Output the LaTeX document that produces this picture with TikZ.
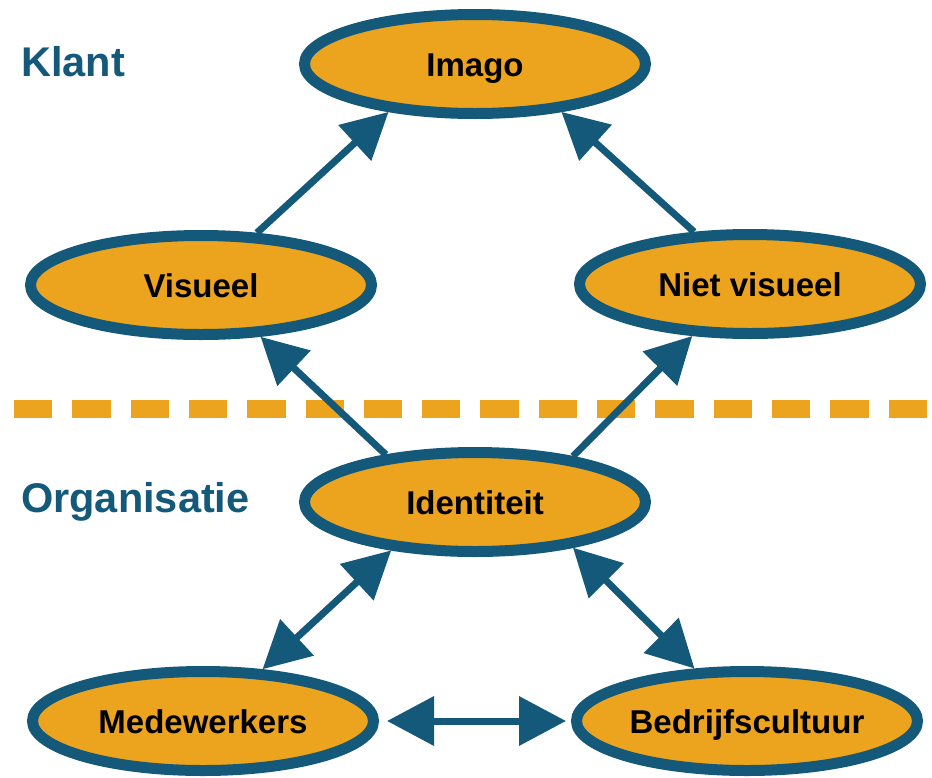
\documentclass[tikz,border=0pt]{standalone}
\usepackage{fontspec}
\setmainfont{Liberation Sans}
\usetikzlibrary{arrows.meta,shapes.geometric}
\definecolor{ochre}{RGB}{236,164,30}
\definecolor{petrol}{RGB}{20,89,122}
\begin{document}
\begin{tikzpicture}[x=1pt,y=-1pt,
  concept/.style={ellipse, draw=petrol, fill=ochre, line width=11pt,
    minimum width=341pt, minimum height=99pt, inner sep=0pt, outer sep=5.5pt,
    text height=24pt, text depth=0pt, text=black,
    font=\fontsize{33}{39}\selectfont\bfseries},
  zone/.style={anchor=base west, inner sep=0pt, text=petrol,
    font=\fontsize{41.5}{50}\selectfont\bfseries},
  link/.style={draw=petrol, line width=7pt, -{Triangle[length=46pt,width=47pt]}},
  both/.style={draw=petrol, line width=7pt,
    {Triangle[length=47pt,width=48pt]}-{Triangle[length=47pt,width=48pt]}},
  divider/.style={draw=ochre, line width=18pt, dash pattern=on 38.3pt off 20pt}
]
\useasboundingbox (0,0) rectangle (932,777);

% dashed boundary between customer and organisation
\coordinate (divL) at (14,409);
\coordinate (divR) at (932,409);
\draw[divider] (divL) -- (divR);

% zone labels
\node[zone] (klant) at (21,76) {Klant};
\node[zone] (org) at (21,512) {Organisatie};

% concepts
\node[concept] (imago) at (475,64) {Imago};
\node[concept] (vis) at (201,285) {Visueel};
\node[concept] (niet) at (750,284) {Niet visueel};
\node[concept] (ident) at (475,502) {Identiteit};
\node[concept] (med) at (203,721) {Medewerkers};
\node[concept] (bed) at (747,721) {Bedrijfscultuur};

% relations
\draw[link] (vis.43) -- (imago.209);
\draw[link] (niet.137) -- (imago.331);
\draw[link] (ident.152) -- (vis.319);
\draw[link] (ident.25) -- (niet.222);
\draw[both] (ident.210) -- (med.41);
\draw[both] (ident.335) -- (bed.135);
\draw[both, shorten <=8pt, shorten >=5pt] (med.east) -- (bed.west);
\end{tikzpicture}
\end{document}
